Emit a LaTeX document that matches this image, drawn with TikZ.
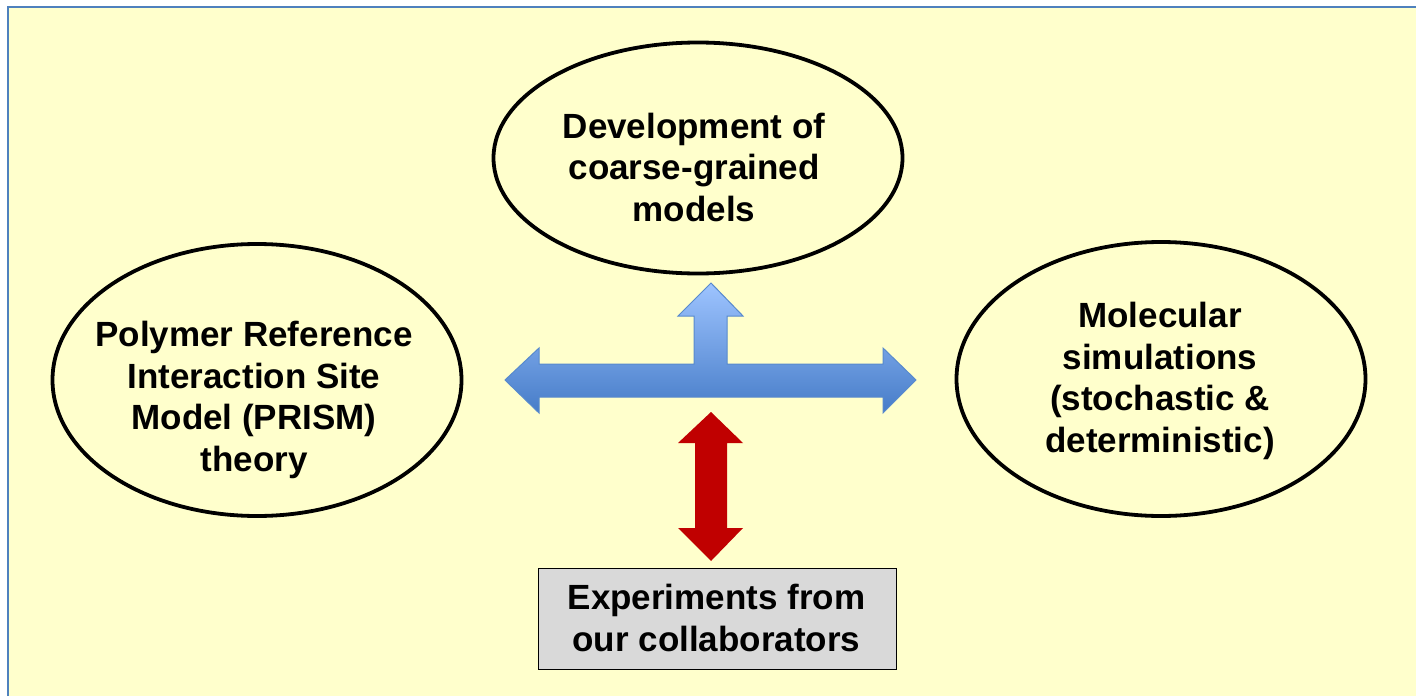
\documentclass[tikz,border=0pt]{standalone}
\usepackage{fontspec}
\setmainfont{Liberation Sans}
\usetikzlibrary{shapes.geometric}

\definecolor{paper}{RGB}{255,255,204}
\definecolor{frameblue}{RGB}{79,129,189}
\definecolor{arrowtop}{RGB}{158,196,255}
\definecolor{arrowbot}{RGB}{70,124,200}
\definecolor{arrowline}{RGB}{88,138,205}
\definecolor{darkred}{RGB}{192,0,0}
\definecolor{boxgray}{RGB}{217,217,217}

\tikzset{
    bubble/.style = {ellipse, draw, line width=3.8pt, minimum width=409pt, inner sep=0pt},
    txt/.style = {align=center, inner sep=0pt, font=\fontsize{35}{41.5}\selectfont\bfseries},
    expbox/.style = {rectangle, draw, line width=1.5pt, fill=boxgray, minimum width=358pt, minimum height=101pt}
}

\begin{document}
\begin{tikzpicture}[x=1pt, y=-1pt]
        \useasboundingbox (0,0) rectangle (1416,696);
        % background sheet
        \fill[paper] (8,7) rectangle (1416,696);
        \draw[frameblue, line width=2pt] (8,696) -- (8,7) -- (1416,7);
        % the three topics
        \node[bubble, minimum height=231pt] (cg) at (698,158) {};
        \node[bubble, minimum height=272pt] (prism) at (257,380) {};
        \node[bubble, minimum height=274pt] (sim) at (1161,379) {};
        \node[txt] (cgtxt) at (694,167) {Development of\\coarse-grained\\models};
        \node[txt] (prismtxt) at (254,400) {Polymer Reference\\Interaction Site\\Model (PRISM)\\theory};
        \node[txt] (simtxt) at (1160,381) {Molecular\\simulations\\(stochastic \&\\deterministic)};
        % experiments
        \node[expbox] (exp) at (717.5,619) {};
        \node[txt] (exptxt) at (716.5,618) {Experiments from\\our collaborators};
        % blue T arrow
        \draw[draw=arrowline, line width=1pt, top color=arrowtop, bottom color=arrowbot]
            (505,380) -- (539,348) -- (539,364) -- (694,364) -- (694,316) -- (678,316)
            -- (711,283) -- (743,316) -- (727,316) -- (727,364) -- (883,364) -- (883,348)
            -- (916,380) -- (883,413) -- (883,397) -- (539,397) -- (539,413) -- cycle;
        % red double arrow
        \fill[darkred] (711,412) -- (743,443) -- (727,443) -- (727,528) -- (743,528)
            -- (711,561) -- (678,528) -- (695,528) -- (695,443) -- (678,443) -- cycle;
\end{tikzpicture}
\end{document}
